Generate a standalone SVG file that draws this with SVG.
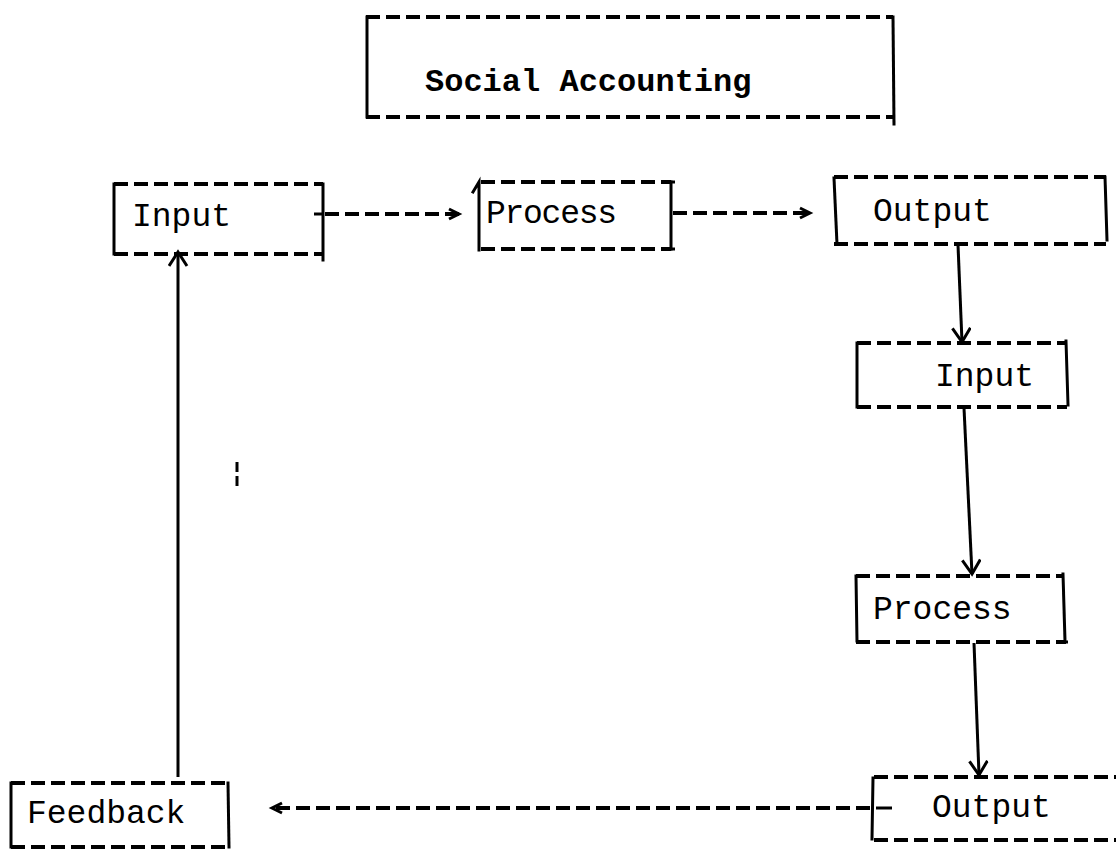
<svg xmlns="http://www.w3.org/2000/svg" width="1116" height="851" viewBox="0 0 1116 851">
  <style>
    .dash { stroke: #000; stroke-width: 4; stroke-dasharray: 14 6; fill: none; }
    .side { stroke: #000; stroke-width: 3; fill: none; stroke-linecap: square; }
    .line { stroke: #000; stroke-width: 3; fill: none; }
    .lbl { font-family: "Liberation Mono", "DejaVu Sans Mono", monospace; font-size: 33px; fill: #000; }
    .title { font-weight: bold; font-size: 32px; }
  </style>
  <defs>
    <marker id="vhead" markerWidth="20" markerHeight="22" refX="16" refY="10" orient="auto" markerUnits="userSpaceOnUse">
      <path d="M2,1 L16,10 L2,19" stroke="#000" stroke-width="3" fill="none"/>
    </marker>
    <marker id="chev" markerWidth="16" markerHeight="16" refX="12" refY="7" orient="auto" markerUnits="userSpaceOnUse">
      <path d="M2,2 L12,7 L2,12" stroke="#000" stroke-width="3" fill="none"/>
    </marker>
  </defs>

  <!-- title box -->
  <g id="social-accounting">
    <line class="dash" x1="366" y1="17" x2="893" y2="17"/>
    <line class="dash" x1="366" y1="117" x2="893" y2="117"/>
    <line class="side" x1="367" y1="17" x2="367" y2="117"/>
    <line class="side" x1="893" y1="17" x2="894" y2="124"/>
    <text class="lbl title" x="425" y="91">Social Accounting</text>
  </g>

  <!-- top row -->
  <g id="input-1">
    <line class="dash" x1="114" y1="184" x2="323" y2="184"/>
    <line class="dash" x1="114" y1="254" x2="323" y2="254"/>
    <line class="side" x1="114" y1="184" x2="114" y2="254"/>
    <line class="side" x1="323" y1="184" x2="323" y2="260"/>
    <line class="line" x1="314" y1="214" x2="323" y2="214"/>
    <text class="lbl" x="132" y="226">Input</text>
  </g>

  <g id="process-1">
    <line class="dash" x1="481" y1="182" x2="671" y2="182"/>
    <line class="dash" x1="481" y1="249" x2="671" y2="249"/>
    <path class="side" d="M473,192 L479,182 L479,250"/>
    <line class="side" x1="671" y1="182" x2="671" y2="249"/>
    <line class="line" x1="664" y1="182" x2="675" y2="182"/>
    <line class="line" x1="664" y1="249" x2="675" y2="249"/>
    <text class="lbl" x="486" y="223" textLength="131">Process</text>
  </g>

  <g id="output-1">
    <line class="dash" x1="834" y1="177" x2="1106" y2="177"/>
    <line class="dash" x1="834" y1="244" x2="1106" y2="244"/>
    <line class="side" x1="834" y1="178" x2="837" y2="244"/>
    <line class="side" x1="1105" y1="177" x2="1107" y2="240"/>
    <text class="lbl" x="873" y="221">Output</text>
  </g>

  <!-- right column -->
  <g id="input-2">
    <line class="dash" x1="857" y1="343" x2="1066" y2="343"/>
    <line class="dash" x1="857" y1="407" x2="1067" y2="407"/>
    <line class="side" x1="857" y1="343" x2="857" y2="407"/>
    <line class="side" x1="1066" y1="341" x2="1068" y2="405"/>
    <text class="lbl" x="935" y="386">Input</text>
  </g>

  <g id="process-2">
    <line class="dash" x1="856" y1="576" x2="1064" y2="576"/>
    <line class="dash" x1="856" y1="642" x2="1066" y2="642"/>
    <line class="side" x1="856" y1="576" x2="857" y2="641"/>
    <line class="side" x1="1063" y1="574" x2="1065" y2="641"/>
    <line class="line" x1="1058" y1="642" x2="1068" y2="642"/>
    <text class="lbl" x="873" y="619">Process</text>
  </g>

  <g id="output-2">
    <line class="dash" x1="874" y1="777" x2="1116" y2="777"/>
    <line class="dash" x1="874" y1="840" x2="1116" y2="840"/>
    <line class="side" x1="873" y1="778" x2="872" y2="839"/>
    <line class="line" x1="876" y1="808" x2="892" y2="808"/>
    <text class="lbl" x="932" y="817">Output</text>
  </g>

  <g id="feedback">
    <line class="dash" x1="11" y1="783" x2="228" y2="783"/>
    <line class="dash" x1="11" y1="847" x2="228" y2="847"/>
    <line class="side" x1="11" y1="783" x2="11" y2="847"/>
    <line class="side" x1="228" y1="783" x2="229" y2="847"/>
    <text class="lbl" x="27" y="823">Feedback</text>
  </g>

  <!-- connectors -->
  <g id="connectors">
    <line class="dash" x1="325" y1="214" x2="459" y2="214" stroke-dasharray="12 5" marker-end="url(#chev)"/>
    <line class="dash" x1="673" y1="213" x2="810" y2="213" stroke-dasharray="12 5" marker-end="url(#chev)"/>
    <line class="line" x1="958" y1="245" x2="962" y2="342" marker-end="url(#vhead)"/>
    <line class="line" x1="964" y1="408" x2="972" y2="574" marker-end="url(#vhead)"/>
    <line class="line" x1="974" y1="643" x2="979" y2="775" marker-end="url(#vhead)"/>
    <line class="dash" x1="870" y1="808" x2="272" y2="808" stroke-dasharray="12 5" marker-end="url(#chev)"/>
    <line class="line" x1="178" y1="777" x2="178" y2="252" marker-end="url(#vhead)"/>
    <line class="line" x1="237" y1="462" x2="237" y2="472" stroke-width="4"/>
    <line class="line" x1="237" y1="476" x2="237" y2="486" stroke-width="4"/>
  </g>
</svg>
